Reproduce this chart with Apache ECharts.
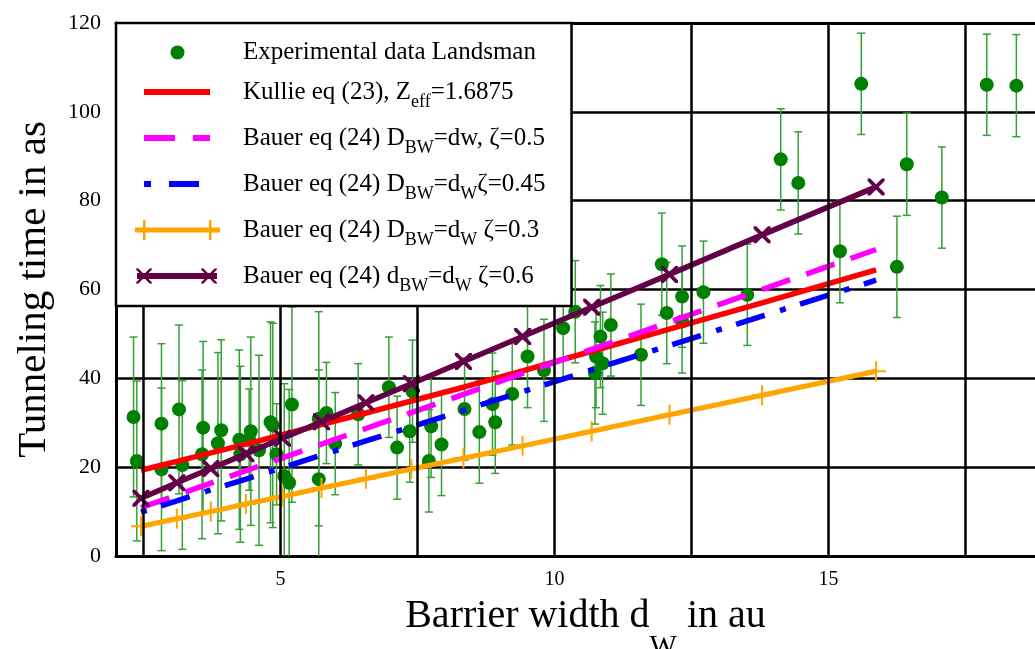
<!DOCTYPE html>
<html>
<head>
<meta charset="utf-8">
<script src="https://cdn.jsdelivr.net/npm/echarts@6/dist/echarts.min.js"></script>
<style>
html,body{margin:0;padding:0;background:#fff;}
#chart{width:1035px;height:649px;}
</style>
</head>
<body>
<div id="chart"></div>
<script>
// ---- Experimental data (Landsman): x (barrier width), y (tunneling time), error half-width
var expX = [2.32, 2.38, 2.83, 2.83, 3.15, 3.21, 3.59, 3.57, 3.92, 3.86,
            4.25, 4.27, 4.46, 4.43, 4.61, 4.82, 4.86, 4.93, 5.21, 5.07,
            5.16, 5.70, 5.70, 5.84, 6.00, 6.42, 6.98, 7.13, 7.36, 7.41,
            7.75, 7.71, 7.94, 8.36, 8.63, 8.87, 8.92, 9.23, 9.51, 9.81,
            10.16, 10.38, 10.84, 10.76, 10.74, 10.88, 11.03, 11.58, 11.96, 12.05,
            12.33, 12.33, 12.72, 13.52, 14.13, 14.45, 15.21, 15.60, 16.25, 16.43,
            17.07, 17.89, 18.43];
var expY = [31.3, 21.4, 29.8, 19.5, 33.0, 20.5, 28.9, 22.9, 28.3, 25.4,
            26.2, 22.9, 28.1, 26.2, 23.8, 30.1, 29.4, 22.9, 34.1, 18.0,
            16.5, 17.3, 30.9, 32.2, 25.3, 31.9, 38.0, 24.4, 28.1, 37.1,
            29.2, 21.4, 25.1, 33.1, 27.9, 34.2, 30.1, 36.5, 44.9, 41.8,
            51.3, 55.0, 49.4, 44.9, 41.2, 43.4, 52.0, 45.3, 65.7, 54.7,
            58.4, 52.8, 59.4, 58.8, 89.3, 84.0, 68.6, 106.3, 65.1, 88.2,
            80.7, 106.1, 105.9];
var expErr = [18.0, 18.0, 18.0, 18.3, 19.0, 19.0, 19.4, 19.0, 20.4, 20.4,
              20.2, 19.8, 21.2, 11.4, 21.4, 22.6, 23.0, 11.4, 22.0, 20.8,
              21.0, 24.6, 24.1, 11.4, 11.5, 11.4, 11.3, 11.6, 11.5, 11.5,
              11.5, 11.5, 11.5, 11.5, 11.5, 11.5, 11.5, 11.5, 11.5, 11.5,
              11.5, 11.5, 11.5, 11.5, 11.5, 11.5, 11.5, 11.4, 11.5, 11.4,
              11.4, 11.6, 11.5, 11.4, 11.4, 11.5, 11.6, 11.4, 11.4, 11.5,
              11.4, 11.4, 11.5];

// ---- Model curves (sampled at the same barrier widths)
var lineX      = [2.456, 3.11, 3.73, 4.37, 5.04, 5.75, 6.56, 7.39, 8.34, 9.42, 10.68, 12.10, 13.79, 15.87];
var kullie     = [19.3, 21.3, 23.2, 25.2, 27.3, 29.6, 32.2, 34.9, 38.0, 41.7, 46.1, 51.1, 57.0, 64.4];
var bauer05    = [10.9, 13.7, 16.4, 19.2, 22.1, 25.2, 28.7, 32.3, 36.4, 41.1, 46.5, 52.7, 60.0, 69.0];
var bauer045   = [9.9, 12.4, 14.9, 17.3, 19.9, 22.7, 25.9, 29.1, 32.8, 37.0, 41.9, 47.4, 54.0, 62.1];
var bauer03    = [6.7, 8.4, 10.0, 11.7, 13.4, 15.3, 17.4, 19.6, 22.0, 24.8, 28.1, 31.8, 36.2, 41.6];
var bauer06    = [13.0, 16.5, 19.7, 23.0, 26.5, 30.2, 34.5, 38.8, 43.8, 49.4, 56.0, 63.4, 72.3, 83.1];

// ---- Axis ticks / grid
var xGridValues  = [2.5, 5, 7.5, 10, 12.5, 15, 17.5];
var xLabelValues = [5, 10, 15];
var yTickValues  = [0, 20, 40, 60, 80, 100, 120];

var seriesNames = [
  'Experimental data Landsman',
  'Kullie eq (23), Zeff=1.6875',
  'Bauer eq (24) DBW=dw, zeta=0.5',
  'Bauer eq (24) DBW=dWzeta=0.45',
  'Bauer eq (24) DBW=dW zeta=0.3',
  'Bauer eq (24) dBW=dW zeta=0.6'
];
var legendLabels = {};
legendLabels[seriesNames[0]] = '{m|Experimental data Landsman}';
legendLabels[seriesNames[1]] = '{m|Kullie eq (23), Z}{s|eff}{m|=1.6875}';
legendLabels[seriesNames[2]] = '{m|Bauer eq (24) D}{s|BW}{m|=dw, ζ=0.5}';
legendLabels[seriesNames[3]] = '{m|Bauer eq (24) D}{s|BW}{m|=d}{s|W}{m|ζ=0.45}';
legendLabels[seriesNames[4]] = '{m|Bauer eq (24) D}{s|BW}{m|=d}{s|W}{m| ζ=0.3}';
legendLabels[seriesNames[5]] = '{m|Bauer eq (24) d}{s|BW}{m|=d}{s|W}{m| ζ=0.6}';

var FONT = 'Liberation Serif';
var GREEN = '#008000', BAR_GREEN = '#36a036';

function zip(a, b) { return a.map(function (v, i) { return [v, b[i]]; }); }
var errData = expX.map(function (x, i) { return [x, expY[i] - expErr[i], expY[i] + expErr[i]]; });

// legend icons (box 105 x 20, anchors at corners)
var A = 'M0,0 M105,20 ';
var icons = [
  'path://' + A + 'M37.5,10 A7,7 0 1,1 51.5,10 A7,7 0 1,1 37.5,10 Z',
  'path://' + A + 'M11,7h66v6h-66z',
  'path://' + A + 'M11,7h31v6h-31z M60,7h17v6h-17z',
  'path://' + A + 'M11,7h7v6h-7z M36,7h30v6h-30z',
  'path://' + A + 'M2,7.5h85v5h-85z M10,0h2.5v20h-2.5z M76,0h2.5v20h-2.5z',
  'path://' + A + 'M4,7h80v6h-80z M3,2.5h2.5l13.5,14v1h-2.5l-13.5,-14z M16.5,2.5h2.5v1l-13.5,14h-2.5v-1z M68,2.5h2.5l13.5,14v1h-2.5l-13.5,-14z M81.5,2.5h2.5v1l-13.5,14h-2.5v-1z'
];

var plusSymbol = 'path://M9,0h2v20h-2z M0,9h20v2h-20z';
var crossSymbol = 'path://M0,0h2.5l13.5,13.5v2.5h-2.5l-13.5,-13.5z M13.5,0h2.5v2.5l-13.5,13.5h-2.5v-2.5z';

var chart = echarts.init(document.getElementById('chart'), null, {renderer: 'canvas'});

var option = {
  animation: false,
  backgroundColor: '#fff',
  textStyle: {fontFamily: FONT, color: '#000'},
  grid: {left: 116, right: 0, top: 23, bottom: 93, containLabel: false, outerBoundsMode: 'none'},
  xAxis: [{
    type: 'value', min: 2, max: 18.77,
    position: 'bottom',
    axisLine: {show: true, onZero: false, lineStyle: {color: '#000', width: 3}},
    axisTick: {show: false},
    splitLine: {show: false},
    axisLabel: {
      customValues: xLabelValues,
      fontFamily: FONT, fontSize: 20, color: '#000', margin: 14,
      formatter: function (v) { return (v % 5 === 0) ? String(v) : ''; }
    },
    name: '{m|Barrier width d}{w|W}{m| in au}',
    nameLocation: 'middle',
    nameGap: 37,
    nameMoveOverlap: false,
    nameTextStyle: {
      padding: [0, 0, 0, 20],
      rich: {
        m: {fontFamily: FONT, fontSize: 40, lineHeight: 46, color: '#000'},
        w: {fontFamily: FONT, fontSize: 29, lineHeight: 30, color: '#000', padding: [63, 0, 0, 0]}
      }
    }
  }, {
    type: 'value', min: 2, max: 18.77,
    position: 'top',
    axisLine: {show: true, onZero: false, lineStyle: {color: '#000', width: 3}},
    axisTick: {show: false},
    axisLabel: {show: false},
    splitLine: {show: false}
  }],
  yAxis: {
    type: 'value', min: 0, max: 120, interval: 20,
    axisLine: {show: true, lineStyle: {color: '#000', width: 3}},
    axisTick: {show: false},
    splitLine: {show: true, lineStyle: {color: '#000', width: 2.5}},
    axisLabel: {fontFamily: FONT, fontSize: 22, color: '#000', margin: 15,
      formatter: function (v) { return yTickValues.indexOf(v) >= 0 ? String(v) : ''; }},
    name: 'Tunneling time in as',
    nameLocation: 'middle',
    nameGap: 62,
    nameMoveOverlap: false,
    nameTextStyle: {fontFamily: FONT, fontSize: 41, lineHeight: 40, color: '#000'}
  },
  legend: {
    orient: 'vertical',
    left: 116, top: 23,
    z: 10,
    padding: [17, 26, 11, 17],
    itemWidth: 105, itemHeight: 20, itemGap: 8,
    backgroundColor: '#fff', borderColor: '#000', borderWidth: 2.5, borderRadius: 0,
    selectedMode: false,
    itemStyle: {borderWidth: 0},
    formatter: function (name) { return legendLabels[name]; },
    textStyle: {
      fontFamily: FONT, fontSize: 25, color: '#000',
      rich: {
        m: {fontFamily: FONT, fontSize: 25, lineHeight: 24, color: '#000'},
        s: {fontFamily: FONT, fontSize: 18, lineHeight: 22, color: '#000', padding: [20, 0, 0, 0]}
      }
    },
    data: seriesNames.map(function (n, i) { return {name: n, icon: icons[i]}; })
  },
  series: [
    {
      name: 'grid',
      type: 'line',
      data: [],
      z: 1,
      silent: true,
      markLine: {
        silent: true, symbol: 'none', animation: false,
        label: {show: false},
        lineStyle: {color: '#000', width: 2.5, type: 'solid'},
        emphasis: {disabled: true},
        data: xGridValues.map(function (v) { return {xAxis: v}; })
      }
    },
    {
      name: 'errbars',
      type: 'custom',
      z: 2,
      clip: true,
      silent: true,
      data: errData,
      renderItem: function (params, api) {
        var x = api.value(0), lo = api.value(1), hi = api.value(2);
        var p1 = api.coord([x, hi]), p2 = api.coord([x, lo]);
        var hw = 4;
        var st = {stroke: BAR_GREEN, lineWidth: 1.5, fill: null};
        return {
          type: 'group',
          children: [
            {type: 'line', shape: {x1: p1[0], y1: p1[1], x2: p2[0], y2: p2[1]}, style: st},
            {type: 'line', shape: {x1: p1[0] - hw, y1: p1[1], x2: p1[0] + hw, y2: p1[1]}, style: st},
            {type: 'line', shape: {x1: p2[0] - hw, y1: p2[1], x2: p2[0] + hw, y2: p2[1]}, style: st}
          ]
        };
      }
    },
    {
      name: seriesNames[0],
      type: 'scatter',
      z: 2,
      data: zip(expX, expY),
      symbol: 'circle',
      symbolSize: 14,
      color: GREEN,
      itemStyle: {color: GREEN, borderWidth: 0, opacity: 1}
    },
    {
      name: seriesNames[1],
      type: 'line', z: 3,
      data: zip(lineX, kullie),
      color: '#ff0000',
      symbol: 'none',
      lineStyle: {color: '#ff0000', width: 5.5}
    },
    {
      name: seriesNames[2],
      type: 'line', z: 3,
      data: zip(lineX, bauer05),
      color: '#ff00ff',
      symbol: 'none',
      lineStyle: {color: '#ff00ff', width: 5.5, type: [30, 17], cap: 'butt'}
    },
    {
      name: seriesNames[3],
      type: 'line', z: 3,
      data: zip(lineX, bauer045),
      color: '#0000ff',
      symbol: 'none',
      lineStyle: {color: '#0000ff', width: 5.5, type: [6, 15, 30, 16], cap: 'butt'}
    },
    {
      name: seriesNames[4],
      type: 'line', z: 3,
      data: zip(lineX, bauer03),
      color: '#ffa500',
      symbol: plusSymbol,
      symbolSize: 20,
      showSymbol: true, showAllSymbol: true,
      itemStyle: {color: '#ffa500', borderWidth: 0},
      lineStyle: {color: '#ffa500', width: 5}
    },
    {
      name: seriesNames[5],
      type: 'line', z: 3,
      data: zip(lineX, bauer06),
      color: '#640048',
      symbol: crossSymbol,
      symbolSize: 17,
      showSymbol: true, showAllSymbol: true,
      itemStyle: {color: '#640048', borderWidth: 0},
      lineStyle: {color: '#640048', width: 5.5}
    }
  ]
};
chart.setOption(option);
</script>
</body>
</html>
